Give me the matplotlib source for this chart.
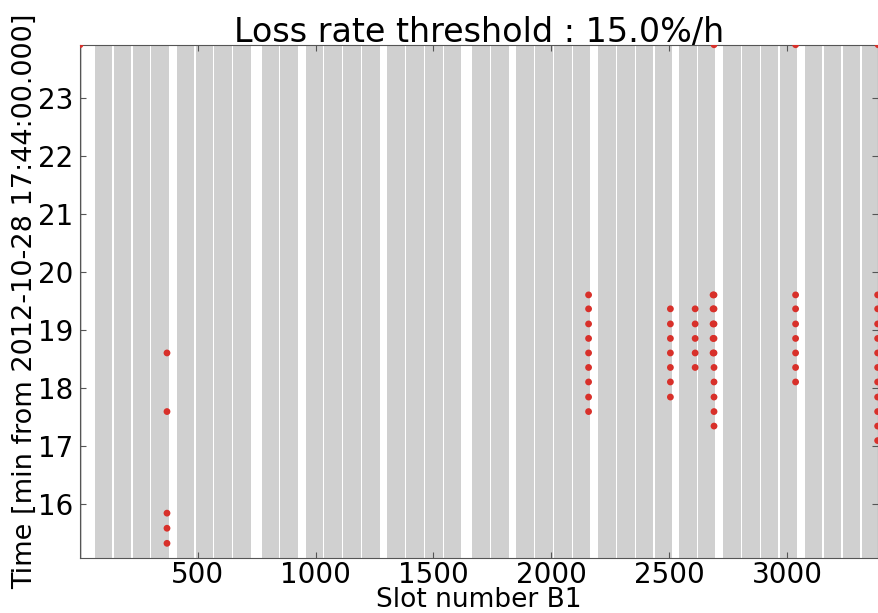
from matplotlib import pyplot as plt

# filled bunch trains (first slot of each 36-bunch train, 50 ns spacing)
train_starts = [64, 144, 224, 304,
                411, 491, 571, 651,
                771, 851,
                958, 1038, 1118, 1198,
                1305, 1385, 1465, 1545,
                1665, 1745,
                1852, 1932, 2012, 2092,
                2199, 2279, 2359, 2439,
                2542, 2622,
                2729, 2809, 2889, 2969,
                3076, 3156, 3236, 3316]
train_length = 74
pilot_slots = [1, 11]

# slots / times where the loss rate was above threshold
loss_slot = ([370] * 5 + [2158] * 9 + [2505] * 7 + [2610] * 5
             + [2690] * 10 + [2686] * 5 + [3036] * 7 + [3384] * 11
             + [1, 2690, 3036, 3386])
loss_time = ([18.60, 17.59, 15.84, 15.58, 15.32]
             + [19.60, 19.36, 19.10, 18.85, 18.60, 18.35, 18.10, 17.84, 17.59]
             + [19.36, 19.10, 18.85, 18.60, 18.35, 18.10, 17.84]
             + [19.36, 19.10, 18.85, 18.60, 18.35]
             + [19.60, 19.36, 19.10, 18.85, 18.60, 18.35, 18.10, 17.84, 17.59, 17.34]
             + [19.60, 19.36, 19.10, 18.85, 18.60]
             + [19.60, 19.36, 19.10, 18.85, 18.60, 18.35, 18.10]
             + [19.60, 19.36, 19.10, 18.85, 18.60, 18.35, 18.10, 17.84, 17.59, 17.34, 17.09]
             + [23.91, 23.91, 23.91, 23.91])

fig = plt.figure(figsize=(8.79, 6.13), dpi=100)
ax = fig.add_axes([0.091, 0.09, 0.908, 0.837])

ax.axvspan(pilot_slots[0], pilot_slots[1], color='#d0d0d0', lw=0)
for s in train_starts:
    ax.axvspan(s, s + train_length, color='#d0d0d0', lw=0)

ax.scatter(loss_slot, loss_time, s=24, color='#d8302a', edgecolors='none', zorder=3)

ax.set_xlim(1, 3386)
ax.set_ylim(15.07, 23.91)
ax.set_xticks([500, 1000, 1500, 2000, 2500, 3000])
ax.set_yticks([16, 17, 18, 19, 20, 21, 22, 23])
ax.tick_params(direction='in', top=True, right=True, labelsize=20, length=4,
               color='#555555', pad=5)
ax.tick_params(axis='x', pad=2)
for sp in ax.spines.values():
    sp.set_color('#555555')

ax.set_title('Loss rate threshold : 15.0%/h', fontsize=24, pad=2)
ax.set_xlabel('Slot number B1', fontsize=19, labelpad=-1)
ax.set_ylabel('Time [min from 2012-10-28 17:44:00.000]', fontsize=19.5, labelpad=0)

plt.savefig('out.png', dpi=100)
